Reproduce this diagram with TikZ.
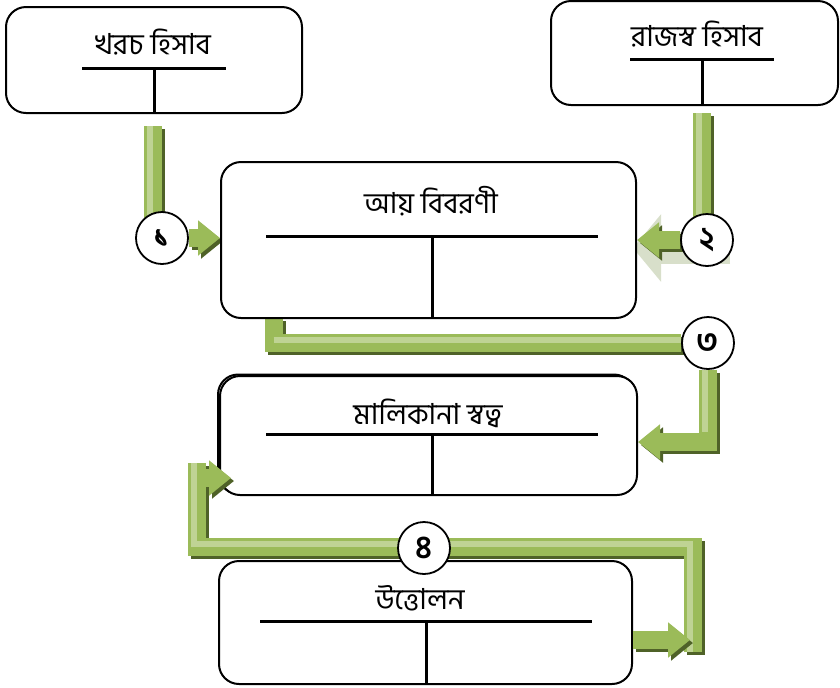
\documentclass[tikz,border=0pt]{standalone}
\usepackage{fontspec}
\newfontfamily\bnfont[Script=Bengali]{Hind Siliguri}
\usetikzlibrary{positioning,calc}
\usetikzlibrary{arrows.meta}
\usetikzlibrary{backgrounds}
\definecolor{barGreen}{HTML}{9BBB59}
\definecolor{barLight}{HTML}{C3D69B}
\definecolor{barDark}{HTML}{4F6228}
\definecolor{ghostGreen}{RGB}{216,223,202}
\tikzset{
  acct/.style={draw, line width=1pt, rounded corners=10pt, fill=white, inner sep=0pt},
  ttl/.style={font=\bnfont\fontsize{14.5}{16}\selectfont, inner sep=0pt},
  tline/.style={line width=1.5pt},
  numc/.style={circle, draw, line width=0.9pt, fill=white, minimum size=26pt,
    inner sep=0pt, font=\bnfont\bfseries\fontsize{16}{18}\selectfont},
  gbar/.style={line width=9pt, barGreen, line join=miter},
  gshadow/.style={line width=9pt, barDark, line join=miter,
    transform canvas={shift={(1.5pt,-1.5pt)}}},
  ghl/.style={line width=3pt, barLight, opacity=0.9},
  ghead/.style={-{Triangle[width=17pt,length=11pt]}},
}
% T account line inside a box
\newcommand{\tacct}[3]{\draw[tline] ($(#2)+(-#3,0)$) -- ($(#2)+(#3,0)$) (#2) -- (#2 |- #1.south);}
\begin{document}
\begin{tikzpicture}[x=0.5pt,y=-0.5pt]
   \useasboundingbox (0,0) rectangle (840,687);

   % ledger boxes
   \node[acct, minimum width=148pt,   minimum height=53pt]   (exp)  at (154,60)    {};
   \node[acct, minimum width=143.5pt, minimum height=52pt]   (rev)  at (694.5,53)  {};
   \node[acct, minimum width=207.5pt, minimum height=78pt]   (inc)  at (428.5,240) {};
   \node[acct, minimum width=208pt,   minimum height=59.5pt] (own0) at (426,434)   {};
   \node[acct, minimum width=208.5pt, minimum height=59.5pt] (own)  at (428.5,435.5) {};
   \node[acct, minimum width=206.5pt, minimum height=61.5pt] (wd)   at (425.5,622.5) {};

   % titles
   \node[ttl] (expL) at (153,42)  {খরচ হিসাব};
   \node[ttl] (revL) at (697,34)  {রাজস্ব হিসাব};
   \node[ttl] (incL) at (431,201) {আয় বিবরণী};
   \node[ttl] (ownL) at (428,413) {মালিকানা স্বত্ব};
   \node[ttl] (wdL)  at (420,598) {উত্তোলন};

   % T lines
   \coordinate (expT) at (154,68);
   \coordinate (revT) at (702,59);
   \coordinate (incT) at (432,236);
   \coordinate (ownT) at (432,434);
   \coordinate (wdT)  at (426,621);
   \tacct{exp}{expT}{72}
   \tacct{rev}{revT}{72}
   \tacct{inc}{incT}{166}
   \tacct{own}{ownT}{166}
   \tacct{wd}{wdT}{166}

   % numbered circles
   \node[numc] (n1) at (162,238) {১};
   \node[numc] (n2) at (707,240) {২};
   \node[numc] (n3) at (708,343) {৩};
   \node[numc] (n4) at (424,548) {৪};

   % bar ends
   \coordinate (k0) at (153,126);
   \coordinate (r0) at (702,113);
   \coordinate (a0) at (273.5,318);
   \coordinate (w0) at (693,652);
   \coordinate (w1) at (197,547);
   \coordinate (w2) at (690,640);
   \coordinate (w3) at (197,463);
   \coordinate (w4) at (206,478);

   \begin{scope}[on background layer]
      % ghost behind arrow 2
      \draw[line width=16pt, ghostGreen, -{Triangle[width=33pt,length=14pt]}]
         (730,248) -- (633,248);

      % shadows
      \draw[gshadow] (k0) -- (k0 |- n1);
      \draw[gshadow, ghead] (n1) -- (inc.west |- n1);
      \draw[gshadow] (r0) -- (r0 |- n2);
      \draw[gshadow, ghead] (n2) -- (inc.east |- n2);
      \draw[gshadow] (a0) |- (n3);
      \draw[gshadow, ghead] (n3) |- (own.east |- 0,442);
      \draw[gshadow] (w0) |- (w1) -- (w3);

      % bars
      \draw[gbar] (k0) -- (k0 |- n1);
      \draw[gbar, ghead] (n1) -- (inc.west |- n1);
      \draw[gbar] (r0) -- (r0 |- n2);
      \draw[gbar, ghead] (n2) -- (inc.east |- n2);
      \draw[gbar] (a0) |- (n3);
      \draw[gbar, ghead] (n3) |- (own.east |- 0,442);
      \draw[gbar] (w0) |- (w1) -- (w3);

      % highlights
      \draw[ghl, transform canvas={xshift=-1.5pt}] (k0) -- (k0 |- n1);
      \draw[ghl, transform canvas={xshift=-1.5pt}] (r0) -- (r0 |- n2);
      \draw[ghl, transform canvas={yshift=1.5pt}] (a0 |- n3) -- (n3);
      \draw[ghl, transform canvas={xshift=-1.5pt}] (n3) -- (n3 |- 0,432);
      \draw[ghl, transform canvas={xshift=-1.5pt}] (w0) -- (w0 |- w1);
      \draw[ghl, transform canvas={yshift=1.5pt}] (w1) -- (w1 -| w0);
      \draw[ghl, transform canvas={xshift=-1.5pt}] (w1) -- (w3);
   \end{scope}

   % arrow heads of 4 over the boxes
   \draw[gshadow, ghead] (wd.east |- w2) -- (w2);
   \draw[gbar, ghead] (wd.east |- w2) -- (w2);
   \draw[gshadow, ghead] (w4) -- ([xshift=6pt]own.west |- w4);
   \draw[gbar, ghead] (w4) -- ([xshift=6pt]own.west |- w4);
\end{tikzpicture}
\end{document}
